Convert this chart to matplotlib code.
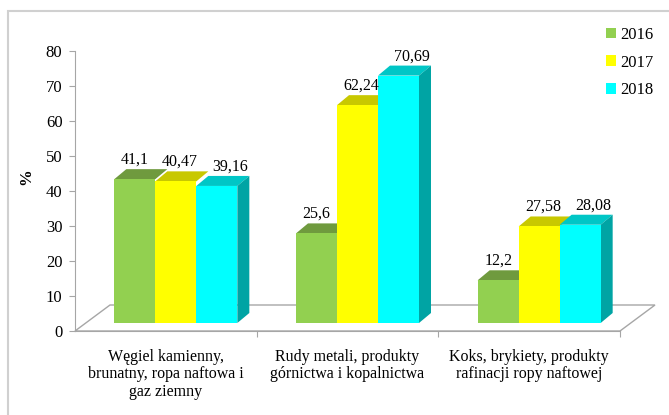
import matplotlib
matplotlib.use("Agg")
import matplotlib.pyplot as plt
from matplotlib.patches import Polygon, Rectangle
import numpy as np

# ----------------------------
# data
# ----------------------------
categories = ["Węgiel kamienny,\nbrunatny, ropa naftowa i\ngaz ziemny",
              "Rudy metali, produkty\ngórnictwa i kopalnictwa",
              "Koks, brykiety, produkty\nrafinacji ropy naftowej"]
years = ["2016", "2017", "2018"]
v2016 = [41.1, 25.6, 12.2]
v2017 = [40.47, 62.24, 27.58]
v2018 = [39.16, 70.69, 28.08]
labels2016 = ["41,1", "25,6", "12,2"]
labels2017 = ["40,47", "62,24", "27,58"]
labels2018 = ["39,16", "70,69", "28,08"]

# ----------------------------
# style
# ----------------------------
front_cols = ["#92d050", "#ffff00", "#00ffff"]
top_cols = ["#6f9a3e", "#c8c800", "#00c6c6"]
side_col = "#00a4a4"
edge_gray = "#a6a6a6"

plt.rcParams["font.family"] = ["Liberation Serif", "DejaVu Serif"]

W, H = 669, 415
fig = plt.figure(figsize=(W / 100, H / 100), dpi=100)

# axes box in pixels: x 75..620, y 331 (0) .. 51 (80)
ax_l, ax_r, ax_b, ax_t = 75, 620, 331, 51
ax = fig.add_axes([ax_l / W, (H - ax_b) / H, (ax_r - ax_l) / W, (ax_b - ax_t) / H])
ax.set_xlim(-0.5, 2.5)
ax.set_ylim(0, 80)

px_x = (ax_r - ax_l) / 3.0     # px per category unit
px_y = (ax_b - ax_t) / 80.0    # px per value unit

# floor depth and bar placement (in pixels, converted to data)
floor_dx, floor_dy = 35 / px_x, 26 / px_y
off_x, off_y = 10 / px_x, 8 / px_y
dep_x, dep_y = 12 / px_x, 10 / px_y
bw = 41 / px_x

# floor
floor = Polygon([(-0.5, 0), (-0.5 + floor_dx, floor_dy), (2.5 + floor_dx, floor_dy), (2.5, 0)],
                closed=True, facecolor="none", edgecolor=edge_gray, lw=1.0, clip_on=False, zorder=1)
ax.add_patch(floor)

x = np.arange(len(categories))
series = [v2016, v2017, v2018]
series_labels = [labels2016, labels2017, labels2018]
label_dx = [0, 4, 13]   # px shift for value labels

for j, (vals, labs) in enumerate(zip(series, series_labels)):
    xs = x + (j - 1) * bw + off_x
    ax.bar(xs, vals, bw, bottom=off_y, color=front_cols[j], edgecolor="none",
           zorder=3, label=years[j], clip_on=False)
    for xi, v, lab in zip(xs, vals, labs):
        x0, x1 = xi - bw / 2, xi + bw / 2
        top = off_y + v
        ax.add_patch(Polygon([(x0, top), (x0 + dep_x, top + dep_y), (x1 + dep_x, top + dep_y), (x1, top)],
                             closed=True, facecolor=top_cols[j], edgecolor="none", zorder=2, clip_on=False))
        if j == 2:
            ax.add_patch(Polygon([(x1, off_y), (x1 + dep_x, off_y + dep_y), (x1 + dep_x, top + dep_y), (x1, top)],
                                 closed=True, facecolor=side_col, edgecolor="none", zorder=2, clip_on=False))
        ax.annotate(lab, (xi, top + dep_y), xytext=(label_dx[j] * 0.72, 1), textcoords="offset points",
                    ha="center", va="bottom", fontsize=11.5, zorder=5)

# axes look
for s in ["top", "right"]:
    ax.spines[s].set_visible(False)
ax.spines["left"].set_color(edge_gray)
ax.spines["bottom"].set_color(edge_gray)
ax.spines["bottom"].set_zorder(1)
ax.set_yticks(np.arange(0, 81, 10))
ax.tick_params(axis="y", colors=edge_gray, labelcolor="black", length=4, pad=5, labelsize=12)
ax.set_xticks([0.5, 1.5, 2.5])
ax.set_xticklabels([])
ax.tick_params(axis="x", colors=edge_gray, length=4)
for i, c in enumerate(categories):
    ax.text(i, -5.0, c, ha="center", va="top", fontsize=11.5, linespacing=1.15)

ax.set_ylabel("%", fontsize=12, fontweight="bold")
ax.yaxis.set_label_coords(-0.075, 0.55)

# legend
leg = ax.legend(loc="upper left", bbox_to_anchor=(606 / W, (H - 27) / H), bbox_transform=fig.transFigure,
                frameon=False, fontsize=12, handlelength=0.6, handleheight=0.6, handletextpad=0.25,
                labelspacing=0.7, borderaxespad=0, borderpad=0)

# chart frame (light gray, runs off right/bottom)
fig.patches.append(Rectangle((8 / W, -0.05), 1.1, (H - 11) / H + 0.05, transform=fig.transFigure,
                             facecolor="none", edgecolor="#d0d0d0", lw=1.5))

fig.savefig("out.png", dpi=100)
